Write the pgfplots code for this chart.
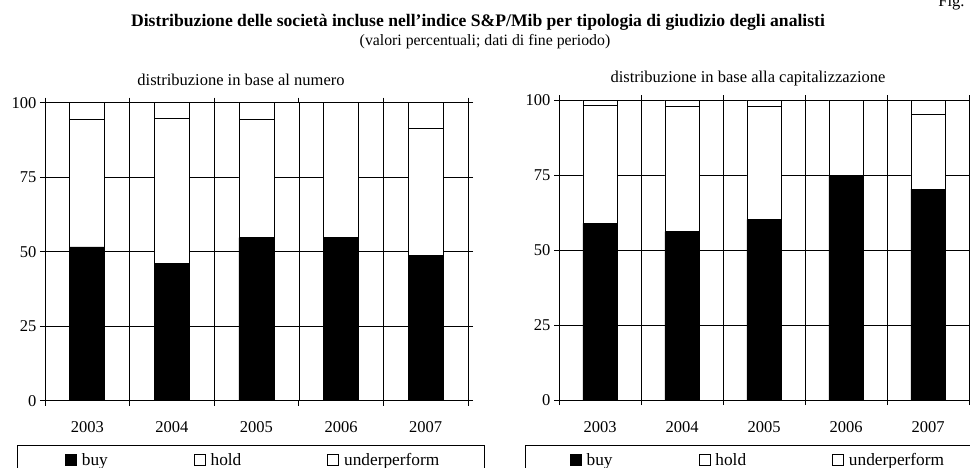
\documentclass[border=0pt]{standalone}
\usepackage{fontspec}
\setmainfont{Liberation Serif}
\usepackage{pgfplots}
\pgfplotsset{compat=1.18}
\usepackage{pgfplotstable}

\pgfplotstableread{
x buy hold under
0 51.6 42.8 5.6
1 46.0 48.6 5.4
2 54.7 39.7 5.6
3 54.9 45.1 0.0
4 48.6 42.9 8.5
}\numero
\pgfplotstableread{
x buy hold under
0 58.9 39.2 1.9
1 56.1 41.8 2.1
2 60.1 37.7 2.2
3 74.8 25.2 0.0
4 70.3 24.8 4.9
}\capit

\newcommand{\fs}{\fontsize{16.5}{19}\selectfont}
\newcommand{\fl}{\fontsize{17.3}{20}\selectfont}

\pgfplotsset{
  sqleg/.style={legend image code/.code={\draw[##1,line width=0.8pt] (0pt,-5.5pt) rectangle (11pt,5.5pt);}},
  panel/.style={
    scale only axis,
    anchor=south west,
    ybar stacked,
    bar width=0.415,
    xmin=-0.5, xmax=4.5,
    ymin=0, ymax=100,
    ytick={0,25,50,75,100},
    xtick={0,1,2,3,4},
    xticklabels={2003,2004,2005,2006,2007},
    minor xtick={-0.5,0.5,1.5,2.5,3.5,4.5},
    xminorgrids=true,
    ymajorgrids=true,
    major grid style={black, line width=0.6pt},
    minor grid style={black, line width=0.6pt},
    tick align=outside,
    major tick length=5pt,
    minor tick length=5pt,
    every major x tick/.append style={draw=none},
    tick style={black, line width=0.8pt},
    axis line style={black, line width=0.9pt},
    ticklabel style={font=\fs},
    /pgf/number format/assume math mode=true,
    xticklabel style={yshift=-12.5pt},
    clip=false,
    legend columns=3,
    legend style={draw=none, fill=none, inner sep=0pt, font=\fl,
      anchor=west,
      /tikz/every odd column/.append style={column sep=3pt},
      /tikz/every even column/.append style={column sep=84pt},
      cells={anchor=west}},
  }
}

\begin{document}
\begin{tikzpicture}
\node[anchor=base east, font=\fs] at (968pt,-7pt) {Fig.};
\node[font=\fontsize{17.6}{20}\selectfont\bfseries] at (478pt,-22pt) {Distribuzione delle società incluse nell’indice S\&P/Mib per tipologia di giudizio degli analisti};
\node[font=\fontsize{15.8}{19}\selectfont] at (485pt,-42pt) {(valori percentuali; dati di fine periodo)};
\node[font=\fs] at (241pt,-80pt) {distribuzione in base al numero};
\node[font=\fs] at (748pt,-79pt) {distribuzione in base alla capitalizzazione};

\begin{axis}[panel, at={(45pt,-400.7pt)}, width=423pt, height=298pt,
  legend style={at={(0.047,-0.199)}}]
\addplot[fill=black, draw=black, line width=0.8pt, sqleg] table[x=x,y=buy] {\numero};
\addplot[fill=white, draw=black, line width=0.8pt, sqleg] table[x=x,y=hold] {\numero};
\addplot[fill=white, draw=black, line width=0.8pt, sqleg] table[x=x,y=under] {\numero};
\legend{buy,hold,underperform}
\end{axis}

\begin{axis}[panel, at={(559pt,-400pt)}, width=410pt, height=300pt,
  legend style={at={(0.026,-0.200)}}]
\addplot[fill=black, draw=black, line width=0.8pt, sqleg] table[x=x,y=buy] {\capit};
\addplot[fill=white, draw=black, line width=0.8pt, sqleg] table[x=x,y=hold] {\capit};
\addplot[fill=white, draw=black, line width=0.8pt, sqleg] table[x=x,y=under] {\capit};
\legend{buy,hold,underperform}
\end{axis}

\draw[line width=0.8pt] (17pt,-480pt) -- (17pt,-445pt) -- (484pt,-445pt) -- (484pt,-480pt);
\draw[line width=0.8pt] (525pt,-480pt) -- (525pt,-445pt) -- (985pt,-445pt);
\pgfresetboundingbox
\path[use as bounding box] (0pt,0pt) rectangle (970pt,-468pt);
\end{tikzpicture}
\end{document}
